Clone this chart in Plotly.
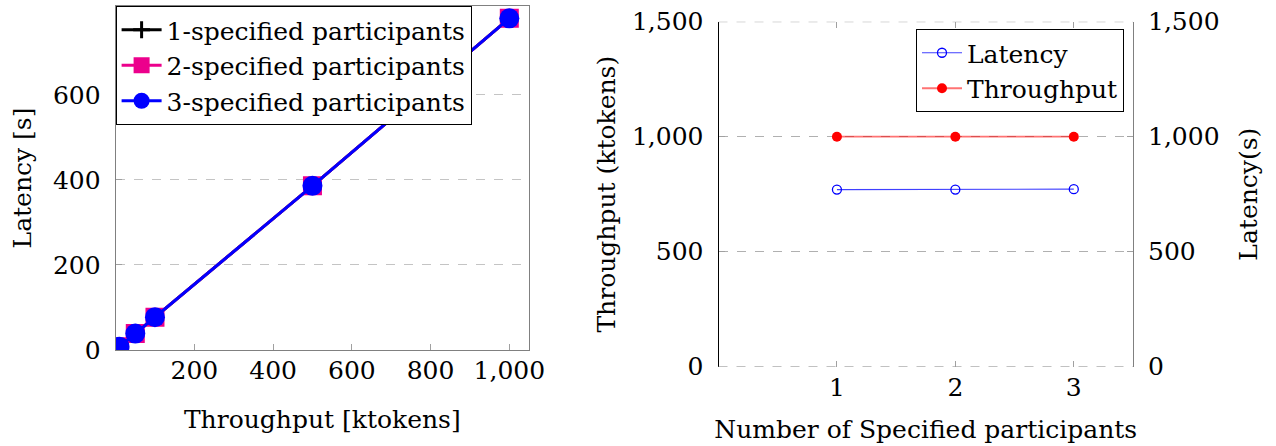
import plotly.graph_objects as go

# ---- Left panel: latency vs throughput for each participant setting ----
throughput_k = [1, 5, 10, 50, 100, 500, 1000]
latency_1 = [0.8, 3.9, 7.8, 38.6, 77.2, 386, 780]
latency_2 = [0.8, 3.9, 7.8, 38.7, 77.3, 386, 780]
latency_3 = [0.8, 3.9, 7.8, 38.6, 77.2, 386, 780]
left_series_names = ["1-specified participants", "2-specified participants", "3-specified participants"]

# ---- Right panel: throughput and latency vs number of specified participants ----
participants = [1, 2, 3]
throughput_vals = [1000, 1000, 1000]
latency_vals = [770, 770, 772]

FONT = "'DejaVu Serif', 'Liberation Serif', serif"
W, H = 1276, 446


def px_x(px):
    return px / W


def px_y(py):
    return 1 - py / H


fig = go.Figure()

# left panel traces
fig.add_trace(go.Scatter(
    x=throughput_k, y=latency_1, name=left_series_names[0], mode="lines+markers",
    line=dict(color="black", width=3),
    marker=dict(symbol="cross-thin", size=12, line=dict(color="black", width=3)),
    xaxis="x", yaxis="y", legend="legend"))
fig.add_trace(go.Scatter(
    x=throughput_k, y=latency_2, name=left_series_names[1], mode="lines+markers",
    line=dict(color="#EC008C", width=3),
    marker=dict(symbol="square", size=19, color="#EC008C"),
    xaxis="x", yaxis="y", legend="legend"))
fig.add_trace(go.Scatter(
    x=throughput_k, y=latency_3, name=left_series_names[2], mode="lines+markers",
    line=dict(color="#0000FF", width=3),
    marker=dict(symbol="circle", size=20, color="#0000FF"),
    xaxis="x", yaxis="y", legend="legend"))

# right panel traces
fig.add_trace(go.Scatter(
    x=participants, y=latency_vals, name="Latency", mode="lines+markers",
    line=dict(color="rgba(0,0,255,0.75)", width=1.2),
    marker=dict(symbol="circle-open", size=9, color="#0000FF", line=dict(width=1.3)),
    xaxis="x2", yaxis="y3", legend="legend2"))
fig.add_trace(go.Scatter(
    x=participants, y=throughput_vals, name="Throughput", mode="lines+markers",
    line=dict(color="rgba(255,0,0,0.55)", width=1.8),
    marker=dict(symbol="circle", size=10, color="#FF0000"),
    xaxis="x2", yaxis="y2", legend="legend2"))

tick_font = dict(family=FONT, size=25, color="black")
title_font = dict(family=FONT, size=25, color="black")
grid_col = "#c4c4c4"

# dashed frame edges of the right panel (grid lines at 0 and 1500)
for yv in (0, 1500):
    fig.add_shape(type="line", xref="x2 domain", yref="y2", x0=0, x1=1, y0=yv, y1=yv,
                  line=dict(color="#9a9a9a", width=1, dash="dash"), layer="above")

fig.update_layout(
    width=W, height=H, autosize=False,
    margin=dict(l=0, r=0, t=0, b=0, autoexpand=False),
    paper_bgcolor="white", plot_bgcolor="white",
    font=dict(family=FONT, color="black"),
    xaxis=dict(
        domain=[px_x(115.6), px_x(529)], anchor="y", automargin=False,
        range=[0, 1050], tickvals=[200, 400, 600, 800, 1000], tickformat=",d",
        showgrid=False, zeroline=False,
        showline=True, linecolor="#808080", linewidth=1, mirror=True,
        ticks="inside", ticklen=6, tickcolor="#a0a0a0",
        tickfont=tick_font, ticklabelstandoff=-2,
        title=dict(text="Throughput [ktokens]", font=title_font, standoff=26),
    ),
    yaxis=dict(
        domain=[px_y(350), px_y(6)], anchor="x", automargin=False,
        range=[0, 809], tickvals=[0, 200, 400, 600],
        showgrid=True, gridcolor=grid_col, griddash="dash", gridwidth=1,
        zeroline=False,
        showline=True, linecolor="#808080", linewidth=1, mirror=True,
        ticks="inside", ticklen=6, tickcolor="#a0a0a0",
        tickfont=tick_font, ticklabelstandoff=9,
        title=dict(text="Latency [s]", font=title_font, standoff=14),
    ),
    xaxis2=dict(
        domain=[px_x(718.5), px_x(1133)], anchor="y2", automargin=False,
        range=[0, 3.5], tickvals=[1, 2, 3],
        showgrid=False, zeroline=False,
        showline=True, linecolor="rgba(0,0,0,0)", mirror="ticks",
        ticks="inside", ticklen=6, tickcolor="#a0a0a0",
        tickfont=tick_font, ticklabelstandoff=-2,
        title=dict(text="Number of Specified participants", font=title_font, standoff=19),
    ),
    yaxis2=dict(
        domain=[px_y(366.7), px_y(21.7)], anchor="x2", automargin=False,
        range=[0, 1500], tickvals=[0, 500, 1000, 1500], tickformat=",d",
        showgrid=True, gridcolor="#b0b0b0", griddash="dash", gridwidth=1,
        zeroline=False,
        showline=True, linecolor="black", linewidth=1,
        ticks="inside", ticklen=6, tickcolor="#a0a0a0",
        tickfont=tick_font, ticklabelstandoff=9,
        title=dict(text="Throughput (ktokens)", font=title_font, standoff=9),
    ),
    yaxis3=dict(
        overlaying="y2", anchor="x2", side="right", automargin=False,
        range=[0, 1500], tickvals=[0, 500, 1000, 1500], tickformat=",d",
        showgrid=False, zeroline=False,
        showline=True, linecolor="#808080", linewidth=1,
        ticks="inside", ticklen=6, tickcolor="#a0a0a0",
        tickfont=tick_font, ticklabelstandoff=9,
        title=dict(text="Latency(s)", font=title_font, standoff=20),
    ),
    legend=dict(
        x=px_x(115.6), y=px_y(6), xanchor="left", yanchor="top",
        bgcolor="white", bordercolor="black", borderwidth=1,
        font=dict(family=FONT, size=25, color="black"),
        tracegroupgap=0, itemwidth=40,
    ),
    legend2=dict(
        x=px_x(1124), y=px_y(29), xanchor="right", yanchor="top",
        bgcolor="white", bordercolor="black", borderwidth=1,
        font=dict(family=FONT, size=25, color="black"),
        tracegroupgap=0, itemwidth=40,
    ),
    showlegend=True,
)

fig.write_html("out.html")
